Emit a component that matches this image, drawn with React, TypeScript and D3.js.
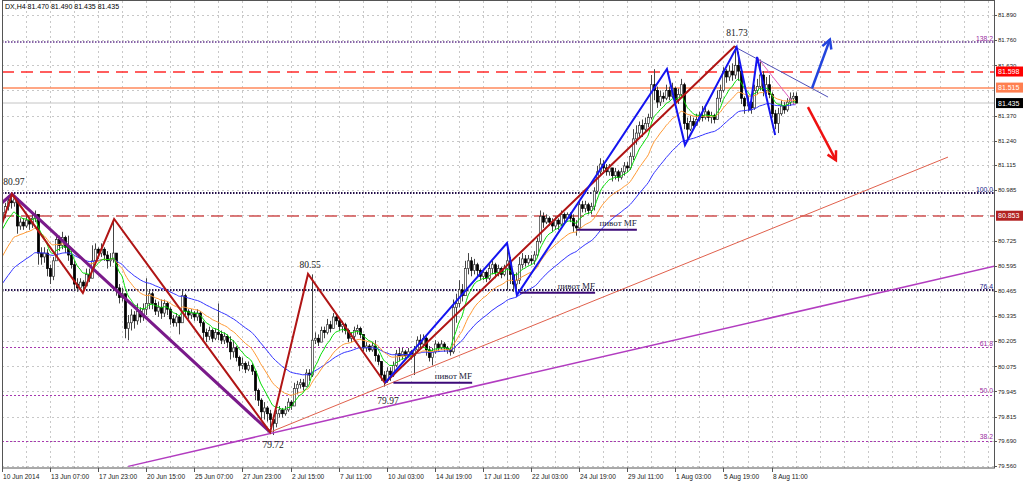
import React from "react";
import * as d3 from "d3";

// ---------- DATA ----------
const headerText = "DX,H4  81.470 81.490 81.435 81.435";
const firstOpen = 80.84;
const closes = [
  80.87, 80.90, 80.93, 80.92, 80.94, 80.80, 80.82, 80.80, 80.83, 80.81, 80.84, 80.86, 80.66, 80.64, 80.66, 80.58,
  80.54, 80.62, 80.73, 80.70, 80.74, 80.69, 80.65, 80.60, 80.50, 80.48, 80.51, 80.49, 80.55, 80.53, 80.62, 80.68,
  80.66, 80.68, 80.65, 80.62, 80.63, 80.66, 80.48, 80.43, 80.45, 80.27, 80.30, 80.34, 80.31, 80.36, 80.33, 80.37,
  80.40, 80.45, 80.40, 80.36, 80.38, 80.35, 80.40, 80.37, 80.32, 80.30, 80.33, 80.30, 80.44, 80.36, 80.34, 80.35,
  80.33, 80.35, 80.30, 80.25, 80.23, 80.26, 80.22, 80.25, 80.24, 80.21, 80.23, 80.20, 80.15, 80.17, 80.12, 80.08,
  80.09, 80.06, 80.08, 80.05, 79.95, 79.90, 79.84, 79.86, 79.83, 79.80, 79.78, 79.83, 79.85, 79.83, 79.85, 79.89,
  79.87, 79.96, 79.98, 79.99, 79.97, 80.04, 80.03, 80.21, 80.22, 80.20, 80.26, 80.25, 80.29, 80.27, 80.33, 80.31,
  80.28, 80.29, 80.26, 80.22, 80.23, 80.26, 80.27, 80.24, 80.17, 80.18, 80.16, 80.18, 80.13, 80.10, 80.03, 80.00,
  80.05, 80.03, 80.08, 80.14, 80.13, 80.15, 80.13, 80.15, 80.13, 80.16, 80.21, 80.19, 80.22, 80.16, 80.12, 80.15,
  80.19, 80.17, 80.19, 80.17, 80.16, 80.15, 80.38, 80.40, 80.47, 80.44, 80.58, 80.62, 80.57, 80.60, 80.57, 80.54,
  80.56, 80.53, 80.58, 80.60, 80.56, 80.58, 80.55, 80.58, 80.62, 80.55, 80.50, 80.52, 80.60, 80.63, 80.61, 80.63,
  80.62, 80.65, 80.72, 80.85, 80.82, 80.84, 80.82, 80.80, 80.83, 80.81, 80.86, 80.84, 80.86, 80.84, 80.80, 80.79,
  80.91, 80.89, 80.91, 80.88, 80.90, 80.98, 81.08, 81.12, 81.10, 81.08, 81.10, 81.06, 81.08, 81.05, 81.08, 81.11,
  81.10, 81.16, 81.25, 81.28, 81.32, 81.30, 81.33, 81.36, 81.53, 81.50, 81.44, 81.47, 81.46, 81.50, 81.47, 81.51,
  81.45, 81.48, 81.53, 81.33, 81.30, 81.34, 81.32, 81.35, 81.37, 81.36, 81.39, 81.36, 81.37, 81.35, 81.46, 81.50,
  81.60, 81.57, 81.60, 81.58, 81.63, 81.60, 81.46, 81.42, 81.44, 81.41, 81.50, 81.52, 81.58, 81.50, 81.53, 81.48,
  81.38, 81.33, 81.38, 81.42, 81.40, 81.44, 81.46, 81.47, 81.435,
];
const highs = [
  80.90, 80.92, 80.95, 80.97, 80.96, 80.92, 80.84, 80.84, 80.85, 80.84, 80.86, 80.88, 80.84, 80.69, 80.69, 80.68,
  80.60, 80.64, 80.76, 80.75, 80.77, 80.75, 80.75, 80.67, 80.62, 80.53, 80.53, 80.52, 80.58, 80.58, 80.70, 80.71,
  80.69, 80.71, 80.69, 80.67, 80.66, 80.83, 80.66, 80.50, 80.48, 80.44, 80.34, 80.37, 80.36, 80.40, 80.38, 80.40,
  80.53, 80.47, 80.46, 80.42, 80.41, 80.42, 80.42, 80.41, 80.38, 80.34, 80.35, 80.34, 80.47, 80.45, 80.37, 80.37,
  80.36, 80.37, 80.36, 80.31, 80.27, 80.28, 80.27, 80.27, 80.40, 80.26, 80.25, 80.24, 80.23, 80.21, 80.18, 80.13,
  80.12, 80.10, 80.10, 80.09, 80.05, 79.96, 79.91, 79.89, 79.87, 79.85, 79.82, 79.85, 79.87, 79.86, 79.87, 79.91,
  79.90, 79.99, 80.00, 80.01, 80.01, 80.06, 80.06, 80.55, 80.25, 80.24, 80.28, 80.28, 80.32, 80.31, 80.35, 80.35,
  80.32, 80.31, 80.30, 80.27, 80.25, 80.28, 80.29, 80.28, 80.24, 80.20, 80.19, 80.20, 80.21, 80.14, 80.10, 80.05,
  80.07, 80.07, 80.10, 80.16, 80.17, 80.17, 80.16, 80.17, 80.16, 80.18, 80.23, 80.24, 80.24, 80.23, 80.18, 80.17,
  80.21, 80.20, 80.21, 80.20, 80.18, 80.17, 80.42, 80.45, 80.52, 80.50, 80.62, 80.66, 80.64, 80.63, 80.61, 80.58,
  80.58, 80.57, 80.61, 80.62, 80.61, 80.60, 80.59, 80.60, 80.71, 80.64, 80.56, 80.56, 80.64, 80.66, 80.65, 80.65,
  80.65, 80.67, 80.74, 80.88, 80.87, 80.86, 80.85, 80.84, 80.85, 80.84, 80.88, 80.87, 80.87, 80.87, 80.86, 80.83,
  80.93, 80.93, 80.93, 80.92, 80.92, 81.00, 81.11, 81.15, 81.14, 81.12, 81.12, 81.10, 81.10, 81.09, 81.10, 81.13,
  81.13, 81.18, 81.30, 81.32, 81.34, 81.35, 81.36, 81.38, 81.58, 81.61, 81.52, 81.50, 81.49, 81.53, 81.52, 81.54,
  81.52, 81.51, 81.56, 81.54, 81.36, 81.37, 81.36, 81.38, 81.39, 81.42, 81.42, 81.40, 81.39, 81.38, 81.50, 81.53,
  81.62, 81.61, 81.63, 81.64, 81.73, 81.70, 81.61, 81.47, 81.47, 81.45, 81.53, 81.56, 81.66, 81.60, 81.57, 81.58,
  81.49, 81.40, 81.41, 81.45, 81.44, 81.46, 81.49, 81.49, 81.49,
];
const lows = [
  80.82, 80.84, 80.88, 80.89, 80.90, 80.76, 80.78, 80.78, 80.79, 80.78, 80.79, 80.82, 80.60, 80.60, 80.61, 80.54,
  80.50, 80.52, 80.62, 80.67, 80.68, 80.66, 80.62, 80.58, 80.47, 80.46, 80.47, 80.46, 80.49, 80.51, 80.53, 80.60,
  80.63, 80.64, 80.62, 80.58, 80.59, 80.61, 80.44, 80.40, 80.41, 80.22, 80.21, 80.26, 80.27, 80.29, 80.30, 80.31,
  80.34, 80.37, 80.37, 80.34, 80.33, 80.32, 80.33, 80.34, 80.29, 80.28, 80.28, 80.24, 80.30, 80.34, 80.32, 80.32,
  80.31, 80.31, 80.28, 80.21, 80.20, 80.21, 80.20, 80.21, 80.21, 80.19, 80.19, 80.17, 80.11, 80.12, 80.10, 80.05,
  80.06, 80.04, 80.05, 80.03, 79.90, 79.87, 79.80, 79.80, 79.79, 79.76, 79.72, 79.76, 79.81, 79.81, 79.82, 79.84,
  79.85, 79.88, 79.93, 79.96, 79.95, 79.97, 80.00, 80.02, 80.19, 80.18, 80.20, 80.22, 80.24, 80.25, 80.27, 80.29,
  80.26, 80.25, 80.24, 80.20, 80.20, 80.21, 80.24, 80.22, 80.15, 80.15, 80.15, 80.15, 80.10, 80.08, 80.00, 79.97,
  79.99, 80.00, 80.02, 80.07, 80.10, 80.11, 80.11, 80.12, 80.11, 80.03, 80.14, 80.17, 80.18, 80.13, 80.10, 80.08,
  80.14, 80.15, 80.16, 80.15, 80.14, 80.13, 80.14, 80.30, 80.38, 80.41, 80.45, 80.55, 80.54, 80.55, 80.54, 80.52,
  80.52, 80.51, 80.52, 80.55, 80.53, 80.54, 80.53, 80.54, 80.47, 80.50, 80.46, 80.44, 80.50, 80.58, 80.59, 80.60,
  80.60, 80.60, 80.64, 80.71, 80.79, 80.81, 80.80, 80.77, 80.78, 80.78, 80.80, 80.82, 80.83, 80.82, 80.77, 80.75,
  80.78, 80.87, 80.87, 80.86, 80.86, 80.88, 80.97, 81.06, 81.07, 81.06, 81.06, 81.03, 81.04, 81.03, 81.04, 81.06,
  81.08, 81.09, 81.14, 81.22, 81.26, 81.26, 81.28, 81.31, 81.35, 81.45, 81.41, 81.42, 81.44, 81.45, 81.45, 81.46,
  81.41, 81.43, 81.47, 81.30, 81.24, 81.29, 81.30, 81.32, 81.34, 81.34, 81.35, 81.34, 81.33, 81.33, 81.35, 81.44,
  81.49, 81.54, 81.55, 81.55, 81.56, 81.55, 81.43, 81.38, 81.39, 81.38, 81.40, 81.48, 81.50, 81.47, 81.48, 81.46,
  81.36, 81.30, 81.28, 81.37, 81.38, 81.39, 81.42, 81.43, 81.435,
];

const dateLabels = [
  "10 Jun 2014", "13 Jun 07:00", "17 Jun 23:00", "20 Jun 15:00", "25 Jun 07:00", "27 Jun 23:00",
  "2 Jul 15:00", "7 Jul 11:00", "10 Jul 03:00", "14 Jul 19:00", "17 Jul 11:00", "22 Jul 03:00",
  "24 Jul 19:00", "29 Jul 11:00", "1 Aug 03:00", "5 Aug 19:00", "8 Aug 11:00",
];
const barsPerDateLabel = 16;
const barsPerGridColumn = 8;
const visibleBars = 330;

const priceTicks = [
  81.89, 81.76, 81.63, 81.37, 81.24, 81.115, 80.985, 80.725, 80.595, 80.465, 80.335, 80.205,
  80.075, 79.945, 79.815, 79.69, 79.56,
];
const hiddenGridPrices = [81.5, 80.855];

const fibLevels = [
  { label: "138.2", price: 81.748, kind: "top" },
  { label: "100.0", price: 80.969, kind: "dark" },
  { label: "76.4", price: 80.469, kind: "dark" },
  { label: "61.8", price: 80.173, kind: "light" },
  { label: "50.0", price: 79.927, kind: "light" },
  { label: "38.2", price: 79.69, kind: "light" },
];

const hLines = [
  { price: 81.598, color: "#ff2a2a", dash: "12 7", width: 1.5, box: "#ff0000" },
  { price: 81.515, color: "#ff8a5c", dash: "", width: 1.6, box: "#ff7f50" },
  { price: 81.435, color: "#c4c4c4", dash: "", width: 1, box: "#000000" },
  { price: 80.853, color: "#d05050", dash: "12 7", width: 1.6, box: "#b22222" },
];

// moving averages: seeds read at the first bar, periods
const maSpecs = [
  { seed: 80.5, period: 36, color: "#3333ff" },
  { seed: 80.64, period: 18, color: "#ff9933" },
  { seed: 80.78, period: 8, color: "#00dd00" },
];

// zigzags: [bar index, price]
const purpleZigzag = [[0, 80.92], [3.3, 80.965], [89.2, 79.735]];
const redZigzag = [
  [0, 80.81], [3.3, 80.965], [26.9, 80.454], [37.3, 80.836], [89.2, 79.735], [101.8, 80.552],
  [127.4, 79.989], [243.8, 81.73],
];
const blueZigzag = [
  [127.4, 79.989], [168.0, 80.712], [171.3, 80.443], [221.2, 81.611], [227.2, 81.218],
  [244.4, 81.724], [248.8, 81.399], [251.2, 81.673], [257.2, 81.27],
];

const pivots = [
  { from: 130.2, to: 156.4, price: 79.99, text: "пивот MF" },
  { from: 172.3, to: 197.3, price: 80.455, text: "пивот MF" },
  { from: 191.3, to: 211.2, price: 80.78, text: "пивот MF" },
];

const trendLines = [
  { pts: [[89.2, 79.735], [314.7, 81.156]], color: "#e0604c", width: 1 },
  { pts: [[42, 79.558], [330.3, 80.593]], color: "#b23cc0", width: 1.5 },
  { pts: [[243.8, 81.725], [274.8, 81.466]], color: "#5050b8", width: 1 },
  { pts: [[251.2, 81.673], [263.8, 81.425]], color: "#e060c0", width: 1 },
];

const arrows = [
  { from: [269.5, 81.513], to: [275.4, 81.763], color: "#2244dd" },
  { from: [268.1, 81.414], to: [277.4, 81.14], color: "#ee1111" },
];

const priceNotes = [
  { text: "80.97", i: 0.4, price: 81.011, anchor: "start" },
  { text: "80.55", i: 102.5, price: 80.583, anchor: "middle" },
  { text: "79.97", i: 128.4, price: 79.88, anchor: "middle" },
  { text: "79.72", i: 90.2, price: 79.653, anchor: "middle" },
  { text: "81.73", i: 244.5, price: 81.781, anchor: "middle" },
];

// ---------- LAYOUT ----------
const W = 1024;
const H = 482;
const plotL = 2;
const plotR = 994;
const plotT = 1;
const plotB = 468;

function ema(values: number[], period: number, seed: number) {
  const a = 2 / (period + 1);
  let e = seed;
  return values.map((v, i) => {
    if (i > 0) e = e + a * (v - e);
    return e;
  });
}

export default function App() {
  const x = d3.scaleLinear().domain([0, visibleBars]).range([plotL, plotR]);
  const y = d3.scaleLinear().domain([79.56, 81.89]).range([466, 15]);
  const py = (p: number) => Math.round(y(p)) + 0.5;

  const bars = closes.map((c, i) => {
    const o = i === 0 ? firstOpen : closes[i - 1];
    return { i, o, c, h: Math.max(highs[i], o, c), l: Math.min(lows[i], o, c) };
  });

  const line = d3
    .line<number[]>()
    .x((d) => x(d[0]))
    .y((d) => y(d[1]));
  const maLine = d3
    .line<number>()
    .x((_, i) => x(i))
    .y((d) => y(d))
    .curve(d3.curveMonotoneX);

  const gridCols = d3.range(0, visibleBars + 1, barsPerGridColumn);
  const gridRows = [...priceTicks, ...hiddenGridPrices];
  const sans = "'Liberation Sans', Arial, sans-serif";
  const serif = "'Liberation Serif', 'Times New Roman', serif";

  const arrowHead = (from: number[], to: number[], color: string, k: number) => {
    const x1 = x(from[0]), y1 = y(from[1]), x2 = x(to[0]), y2 = y(to[1]);
    const ang = Math.atan2(y2 - y1, x2 - x1);
    const len = 10, spread = 0.5;
    const p1 = [x2 - len * Math.cos(ang - spread), y2 - len * Math.sin(ang - spread)];
    const p2 = [x2 - len * Math.cos(ang + spread), y2 - len * Math.sin(ang + spread)];
    return (
      <g key={k}>
        <line x1={x1} y1={y1} x2={x2} y2={y2} stroke={color} strokeWidth={2.5} />
        <polyline
          points={`${p1[0]},${p1[1]} ${x2},${y2} ${p2[0]},${p2[1]}`}
          fill="none"
          stroke={color}
          strokeWidth={2.5}
        />
      </g>
    );
  };

  return (
    <svg
      width={W}
      height={H}
      style={{ position: "absolute", left: 0, top: 0, background: "#fff" }}
    >
      <defs>
        <clipPath id="plot">
          <rect x={plotL} y={plotT} width={plotR - plotL} height={plotB - plotT} />
        </clipPath>
      </defs>
      <rect width={W} height={H} fill="#fff" />

      {/* grid */}
      <g stroke="#c8c8c8" strokeWidth={1} strokeDasharray="2 3">
        {gridCols.map((g) => (
          <line key={"gc" + g} x1={Math.round(x(g)) + 0.5} x2={Math.round(x(g)) + 0.5} y1={plotT} y2={plotB} />
        ))}
        {gridRows.map((p) => (
          <line key={"gr" + p} x1={plotL} x2={plotR} y1={py(p)} y2={py(p)} />
        ))}
      </g>

      <g clipPath="url(#plot)">
        {/* horizontal levels */}
        {fibLevels.map((f) => (
          <line
            key={f.label}
            x1={plotL}
            x2={plotR}
            y1={f.kind === "light" ? py(f.price) : Math.round(y(f.price))}
            y2={f.kind === "light" ? py(f.price) : Math.round(y(f.price))}
            stroke={f.kind === "dark" ? "#24104a" : f.kind === "top" ? "#8866a8" : "#a838b0"}
            strokeWidth={f.kind === "light" ? 1 : 2}
            strokeDasharray={f.kind === "light" ? "2 2" : "1.5 1.5"}
          />
        ))}
        {hLines.map((h) => (
          <line
            key={"h" + h.price}
            x1={plotL}
            x2={plotR}
            y1={Math.round(y(h.price))}
            y2={Math.round(y(h.price))}
            stroke={h.color}
            strokeWidth={h.width}
            strokeDasharray={h.dash || undefined}
          />
        ))}

        {/* candles */}
        {bars.map((b) => {
          const px = Math.round(x(b.i));
          const top = y(Math.max(b.o, b.c));
          const bot = y(Math.min(b.o, b.c));
          const bull = b.c > b.o;
          return (
            <g key={"b" + b.i}>
              <line x1={px + 0.5} x2={px + 0.5} y1={y(b.h)} y2={y(b.l)} stroke="#444" strokeWidth={1} />
              <rect
                x={px - 0.6}
                y={top}
                width={2.2}
                height={Math.max(1, bot - top)}
                fill={bull ? "#ffffff" : "#000000"}
                stroke={bull ? "#333" : "#000"}
                strokeWidth={0.7}
              />
            </g>
          );
        })}

        {/* moving averages */}
        {maSpecs.map((m) => (
          <path key={m.color} d={maLine(ema(closes, m.period, m.seed)) || ""} fill="none" stroke={m.color} strokeWidth={1} />
        ))}

        {/* trend lines */}
        {trendLines.map((t, k) => (
          <path key={"t" + k} d={line(t.pts) || ""} fill="none" stroke={t.color} strokeWidth={t.width} />
        ))}

        {/* pivots */}
        {pivots.map((p, k) => (
          <g key={"p" + k}>
            <line x1={x(p.from)} x2={x(p.to)} y1={y(p.price)} y2={y(p.price)} stroke="#3c0a78" strokeWidth={2} />
            <text x={x(p.to)} y={y(p.price) - 4} textAnchor="end" fontFamily={serif} fontSize={9} fill="#1a1a3a">
              {p.text}
            </text>
          </g>
        ))}

        {/* zigzags */}
        <path d={line(purpleZigzag) || ""} fill="none" stroke="#7a1a8a" strokeWidth={3} />
        <path d={line(redZigzag) || ""} fill="none" stroke="#b01515" strokeWidth={2} />
        <path d={line(blueZigzag) || ""} fill="none" stroke="#1414f0" strokeWidth={2} />

        {/* arrows */}
        {arrows.map((a, k) => arrowHead(a.from, a.to, a.color, k))}

        {/* notes */}
        {priceNotes.map((n) => (
          <text
            key={n.text}
            x={x(n.i)}
            y={y(n.price)}
            textAnchor={n.anchor as any}
            fontFamily={serif}
            fontSize={9.5}
            fill="#222"
          >
            {n.text}
          </text>
        ))}
      </g>

      {/* fib labels */}
      {fibLevels.map((f) => (
        <text
          key={"fl" + f.label}
          x={plotR - 1}
          y={y(f.price) - 1.5}
          textAnchor="end"
          fontFamily={sans}
          fontSize={6.8}
          fill={f.kind === "light" || f.kind === "top" ? "#9a2aa0" : "#222288"}
        >
          {f.label}
        </text>
      ))}

      {/* header */}
      <text x={5} y={9} fontFamily={sans} fontSize={7} fill="#000">
        {headerText}
      </text>

      {/* frame */}
      <rect x={plotL + 0.5} y={plotT - 0.5} width={plotR - plotL} height={plotB - plotT + 0.5} fill="none" stroke="#555" strokeWidth={1} />

      {/* right axis */}
      {priceTicks.map((p) => (
        <g key={"pt" + p}>
          <line x1={plotR} x2={plotR + 3} y1={py(p)} y2={py(p)} stroke="#555" />
          <text x={plotR + 4} y={y(p) + 2.2} fontFamily={sans} fontSize={6} fill="#222">
            {p.toFixed(3)}
          </text>
        </g>
      ))}
      {hLines.map((h) => (
        <g key={"box" + h.price}>
          <rect x={plotR + 2} y={y(h.price) - 5} width={W - plotR - 3} height={10} fill={h.box} />
          <text x={plotR + 4} y={y(h.price) + 2.5} fontFamily={sans} fontSize={7} fill="#fff">
            {h.price.toFixed(3)}
          </text>
        </g>
      ))}

      {/* bottom axis */}
      {dateLabels.map((d, k) => {
        const xi = Math.round(x(k * barsPerDateLabel));
        return (
          <g key={"d" + k}>
            <line x1={xi + 0.5} x2={xi + 0.5} y1={plotB} y2={plotB + 4} stroke="#555" />
            <text x={xi + 1} y={479} fontFamily={sans} fontSize={6.6} fill="#222">
              {d}
            </text>
          </g>
        );
      })}
    </svg>
  );
}
